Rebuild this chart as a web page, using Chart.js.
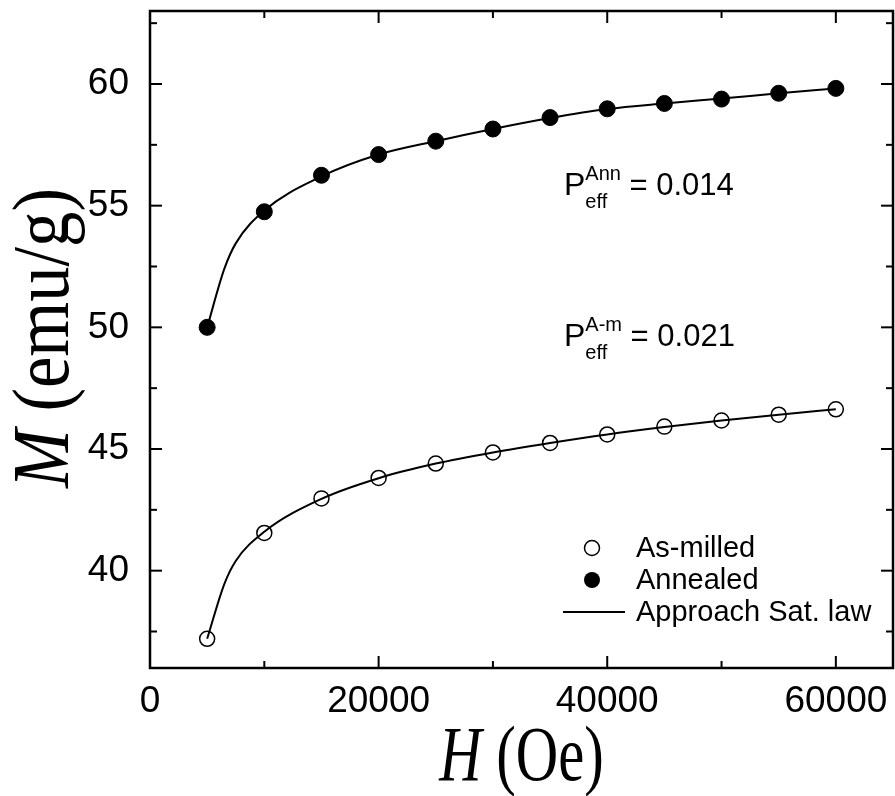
<!DOCTYPE html>
<html>
<head>
<meta charset="utf-8">
<script src="https://cdn.jsdelivr.net/npm/chart.js@4.4.1/dist/chart.umd.min.js"></script>
<style>
  html, body { margin: 0; padding: 0; background: #fff; }
</style>
</head>
<body>
<canvas id="myChart" width="895" height="796"></canvas>
<script>
// measured points: field (Oe) and magnetization (emu/g)
const fieldOe = [5000, 10000, 15000, 20000, 25000, 30000, 35000, 40000, 45000, 50000, 55000, 60000];
const asMilled = [37.2, 41.55, 42.97, 43.81, 44.4, 44.86, 45.25, 45.6, 45.92, 46.17, 46.41, 46.63];
const annealed = [50.0, 54.75, 56.25, 57.1, 57.65, 58.15, 58.62, 58.98, 59.2, 59.38, 59.62, 59.82];
// fitted curves
const fitField = [5000, 6500, 7500, 10000, 15000, 20000, 25000, 30000, 35000, 40000, 45000, 50000, 55000, 60000];
const fitAsMilled = [37.2, 39.45, 40.4, 41.6, 42.95, 43.8, 44.4, 44.86, 45.25, 45.6, 45.9, 46.17, 46.41, 46.63];
const fitAnnealed = [50.0, 52.4, 53.45, 54.8, 56.2, 57.1, 57.65, 58.15, 58.6, 58.97, 59.2, 59.4, 59.62, 59.82];
const xTicks = [0, 20000, 40000, 60000];
const xMinor = [10000, 30000, 50000];
const yTicks = [40, 45, 50, 55, 60];
const yMinor = [37.5, 42.5, 47.5, 52.5, 57.5, 62.5];
const legendLabels = ['As-milled', 'Annealed', 'Approach Sat. law'];

const pts = (xs, ys) => xs.map((h, i) => ({ x: h, y: ys[i] }));

function drawParts(ctx, parts, size) {
    // draws a mixed italic / upright serif string centred on 0
    let total = 0;
    parts.forEach(p => {
        ctx.font = (p.it ? 'italic ' : '') + size + 'px "Liberation Serif"';
        p.w = ctx.measureText(p.t).width;
        total += p.w;
    });
    let x = -total / 2;
    parts.forEach(p => {
        ctx.font = (p.it ? 'italic ' : '') + size + 'px "Liberation Serif"';
        ctx.fillText(p.t, x, 0);
        x += p.w;
    });
}

function drawPeff(ctx, x, y, sup, value) {
    ctx.textBaseline = 'alphabetic';
    ctx.textAlign = 'left';
    ctx.font = '32px "Liberation Sans"';
    ctx.fillText('P', x, y);
    let pw = ctx.measureText('P').width;
    ctx.font = '20px "Liberation Sans"';
    ctx.fillText(sup, x + pw, y - 15);
    ctx.fillText('eff', x + pw, y + 13);
    let sw = Math.max(ctx.measureText(sup).width, ctx.measureText('eff').width);
    ctx.font = '31px "Liberation Sans"';
    ctx.fillText(' = ' + value, x + pw + sw, y);
}

function noPad(s) {
    s.paddingTop = 0; s.paddingBottom = 0; s.paddingLeft = 0; s.paddingRight = 0;
}

const framePlugin = {
    id: 'frame',
    afterDraw(chart) {
        const ctx = chart.ctx;
        const a = chart.chartArea;
        const xs = chart.scales.x, ys = chart.scales.y;
        ctx.save();
        ctx.strokeStyle = '#000';
        ctx.fillStyle = '#000';
        ctx.lineWidth = 2.5;
        ctx.strokeRect(a.left, a.top, a.right - a.left, a.bottom - a.top);
        ctx.lineWidth = 2;
        const tick = (x1, y1, x2, y2) => { ctx.beginPath(); ctx.moveTo(x1, y1); ctx.lineTo(x2, y2); ctx.stroke(); };
        xTicks.concat(xMinor).forEach(v => {
            const len = xTicks.includes(v) ? 12 : 7;
            const px = xs.getPixelForValue(v);
            tick(px, a.bottom, px, a.bottom - len);
            tick(px, a.top, px, a.top + len);
        });
        yTicks.concat(yMinor).forEach(v => {
            const len = yTicks.includes(v) ? 12 : 7;
            const py = ys.getPixelForValue(v);
            tick(a.left, py, a.left + len, py);
            tick(a.right, py, a.right - len, py);
        });

        // legend
        ctx.font = '29px "Liberation Sans"';
        ctx.textBaseline = 'middle';
        ctx.textAlign = 'left';
        const rows = [548, 580, 612];
        ctx.lineWidth = 1.5;
        ctx.beginPath(); ctx.arc(592, rows[0], 7.5, 0, Math.PI * 2); ctx.stroke();
        ctx.beginPath(); ctx.arc(592, rows[1], 8, 0, Math.PI * 2); ctx.fill();
        ctx.lineWidth = 2;
        tick(563, rows[2], 625, rows[2]);
        legendLabels.forEach((t, i) => ctx.fillText(t, 636, rows[i] + 1));

        // P_eff annotations
        drawPeff(ctx, 564, 195, 'Ann', '0.014');
        drawPeff(ctx, 564, 346, 'A-m', '0.021');

        // axis titles
        ctx.textBaseline = 'alphabetic';
        ctx.textAlign = 'left';
        ctx.save();
        ctx.translate((a.left + a.right) / 2, 780);
        ctx.scale(0.89, 1.2);
        drawParts(ctx, [{ t: 'H', it: true }, { t: ' (Oe)' }], 66);
        ctx.restore();
        ctx.save();
        ctx.translate(68, 338);
        ctx.rotate(-Math.PI / 2);
        ctx.scale(0.98, 1.12);
        drawParts(ctx, [{ t: 'M', it: true }, { t: ' (emu/g)' }], 72);
        ctx.restore();
        ctx.restore();
    }
};

const tickFont = { family: 'Liberation Sans', size: 37 };

new Chart(document.getElementById('myChart'), {
    type: 'scatter',
    data: {
        datasets: [{
            label: 'As-milled',
            data: pts(fieldOe, asMilled),
            pointRadius: 7.5,
            pointBorderWidth: 1.5,
            pointBorderColor: '#000',
            pointBackgroundColor: 'rgba(0,0,0,0)',
            showLine: false
        }, {
            label: 'Annealed',
            data: pts(fieldOe, annealed),
            pointRadius: 8,
            pointBorderWidth: 1,
            pointBorderColor: '#000',
            pointBackgroundColor: '#000',
            showLine: false
        }, {
            label: 'Approach Sat. law',
            data: pts(fitField, fitAsMilled),
            showLine: true,
            pointRadius: 0,
            borderColor: '#000',
            borderWidth: 2,
            cubicInterpolationMode: 'monotone'
        }, {
            label: 'Approach Sat. law ',
            data: pts(fitField, fitAnnealed),
            showLine: true,
            pointRadius: 0,
            borderColor: '#000',
            borderWidth: 2,
            cubicInterpolationMode: 'monotone'
        }]
    },
    options: {
        responsive: false,
        animation: false,
        layout: { autoPadding: false, padding: { top: 11, right: 2, left: 0, bottom: 0 } },
        plugins: { legend: { display: false }, tooltip: { enabled: false } },
        scales: {
            x: {
                type: 'linear', min: 0, max: 65000,
                afterBuildTicks: s => { s.ticks = xTicks.map(v => ({ value: v })); },
                afterFit: s => { s.height = 128; noPad(s); },
                grid: { display: false },
                border: { display: false },
                ticks: { color: '#000', font: tickFont, padding: 4, maxRotation: 0, autoSkip: false, callback: v => String(v) }
            },
            y: {
                type: 'linear', min: 36, max: 63,
                afterBuildTicks: s => { s.ticks = yTicks.map(v => ({ value: v })); },
                afterFit: s => { s.width = 150; noPad(s); },
                grid: { display: false },
                border: { display: false },
                ticks: { color: '#000', font: tickFont, padding: 13, autoSkip: false, callback: v => String(v) }
            }
        }
    },
    plugins: [framePlugin]
});
</script>
</body>
</html>
